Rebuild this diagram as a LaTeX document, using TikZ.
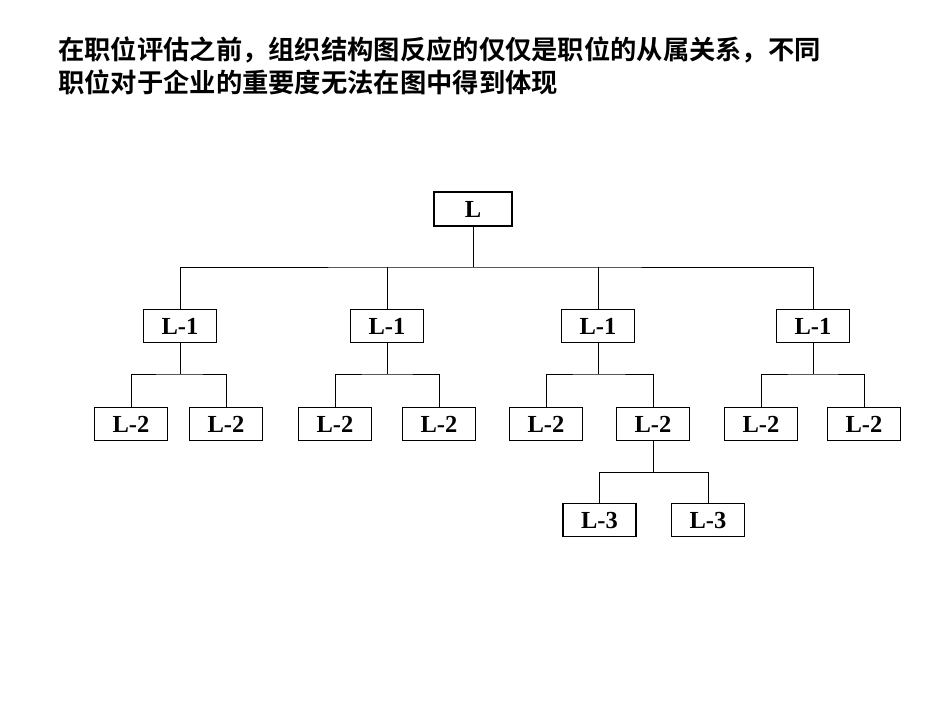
\documentclass[tikz,border=0pt]{standalone}
\usepackage{fontspec}
\setmainfont{Liberation Serif}
\newfontfamily\cjk{Noto Sans CJK SC}[BoldFont={* Bold}]
\begin{document}
\begin{tikzpicture}[x=1pt,y=-1pt,
  box/.style={draw,line width=1.1pt,minimum width=73pt,minimum height=33pt,inner sep=0pt,text height=16pt,text depth=0pt,font=\fontsize{24.5}{24}\selectfont\bfseries},
  conn/.style={line width=0.8pt}]
\useasboundingbox (0,0) rectangle (950,713);
\node[anchor=north west,align=left,inner sep=0pt,font=\cjk\bfseries\fontsize{26.3}{33}\selectfont] (title) at (58,37) {在职位评估之前，组织结构图反应的仅仅是职位的从属关系，不同\\职位对于企业的重要度无法在图中得到体现};
\node[box,minimum width=78pt,minimum height=34pt] (L) at (473,209) {L};
\foreach \n/\x in {a/180,b/387,c/598,d/813}{
  \node[box] (L1\n) at (\x,326) {L-1};
}
\foreach \n/\x in {a1/131,a2/226,b1/335,b2/439,c1/546,c2/653,d1/761,d2/864}{
  \node[box] (L2\n) at (\x,424) {L-2};
}
\node[box] (L3a) at (599.5,520) {L-3};
\node[box] (L3b) at (708,520) {L-3};
\coordinate (bus0) at (473,267);
\draw[conn] (L.south) -- (bus0);
\draw[conn] (L1a.north) |- (bus0) -| (L1d.north);
\draw[conn] (L1b.north) -- (L1b.north |- bus0);
\draw[conn] (L1c.north) -- (L1c.north |- bus0);
\foreach \n in {a,b,c,d}{
  \coordinate (bb\n) at (L1\n.south |- 0,374);
  \draw[conn] (L1\n.south) -- (bb\n);
  \draw[conn] (L2\n1.north) |- (bb\n) -| (L2\n2.north);
}
\coordinate (bc) at (L2c2.south |- 0,472);
\draw[conn] (L2c2.south) -- (bc);
\draw[conn] (L3a.north) |- (bc) -| (L3b.north);
\end{tikzpicture}
\end{document}
